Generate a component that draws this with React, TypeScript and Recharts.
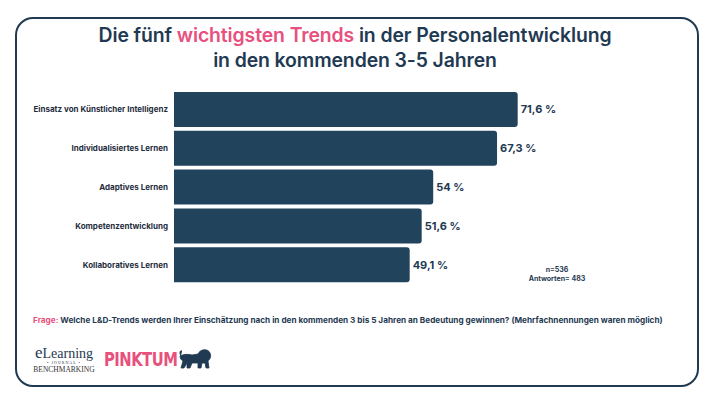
import React from "react";
import { BarChart, Bar, XAxis, YAxis, LabelList } from "recharts";

const categories = [
  "Einsatz von Künstlicher Intelligenz",
  "Individualisiertes Lernen",
  "Adaptives Lernen",
  "Kompetenzentwicklung",
  "Kollaboratives Lernen",
];
const values = [71.6, 67.3, 54, 51.6, 49.1];

const NAVY = "#1f3a52";
const BAR = "#22435c";
const PINK = "#e8507e";
const FONT = "Inter, 'Noto Sans', sans-serif";

const data = categories.map((name, i) => ({ name, value: values[i] }));

const fmt = (v: any) => String(v).replace(".", ",") + " %";

const CategoryTick = (props: any) => {
  const { x, y, payload } = props;
  return (
    <text x={x} y={y} dy={3} textAnchor="end" fill="#1f2d3d" fontSize={8} fontWeight={700} fontFamily={FONT}>
      {payload.value}
    </text>
  );
};

export default function App() {
  return (
    <div style={{ position: "absolute", left: 0, top: 0, width: 710, height: 399, background: "#fff", fontFamily: FONT }}>
      <div
        style={{
          position: "absolute",
          left: 15,
          top: 17,
          width: 680,
          height: 366,
          border: `2px solid ${NAVY}`,
          borderRadius: 18,
        }}
      />
      <div
        style={{
          position: "absolute",
          left: 0,
          top: 23,
          width: 710,
          textAlign: "center",
          fontSize: 19.4,
          fontWeight: 600,
          color: NAVY,
          lineHeight: "25px",
          letterSpacing: -0.1,
        }}
      >
        Die fünf <span style={{ color: PINK }}>wichtigsten Trends</span> in der Personalentwicklung
        <br />
        in den kommenden 3-5 Jahren
      </div>

      <div style={{ position: "absolute", left: 0, top: 0 }}>
        <BarChart
          width={710}
          height={399}
          data={data}
          layout="vertical"
          margin={{ top: 90, right: 56, left: 0, bottom: 115 }}
          barCategoryGap={2}
        >
          <XAxis type="number" domain={[0, 100]} hide />
          <YAxis
            type="category"
            dataKey="name"
            width={174}
            axisLine={false}
            tickLine={false}
            tickSize={4}
            tickMargin={2}
            tick={<CategoryTick />}
          />
          <Bar dataKey="value" fill={BAR} radius={[0, 3, 3, 0]} isAnimationActive={false}>
            <LabelList
              dataKey="value"
              position="right"
              offset={3}
              formatter={fmt}
              style={{ fill: NAVY, fontSize: 11, fontWeight: 700, fontFamily: FONT }}
            />
          </Bar>
        </BarChart>
      </div>

      <div
        style={{
          position: "absolute",
          left: 507,
          top: 265,
          width: 100,
          textAlign: "center",
          fontSize: 7,
          fontWeight: 700,
          color: NAVY,
          lineHeight: "9px",
        }}
      >
        n=536
        <br />
        Antworten= 483
      </div>

      <div
        style={{
          position: "absolute",
          left: 33,
          top: 315,
          fontSize: 8.2,
          fontWeight: 700,
          color: NAVY,
          whiteSpace: "nowrap",
        }}
      >
        <span style={{ color: PINK }}>Frage:</span> Welche L&amp;D-Trends werden Ihrer Einschätzung nach in den kommenden 3 bis 5 Jahren an Bedeutung gewinnen? (Mehrfachnennungen waren möglich)
      </div>

      <div style={{ position: "absolute", left: 33, top: 346, width: 62, textAlign: "center", fontFamily: "'Liberation Serif', serif", color: NAVY }}>
        <div style={{ fontSize: 14, lineHeight: "13px" }}>
          <span style={{ fontSize: 17 }}>e</span>Learning
        </div>
        <div style={{ fontSize: 4, letterSpacing: 1, lineHeight: "5px" }}>• JOURNAL •</div>
        <div style={{ fontSize: 7.5, lineHeight: "9px", color: "#333" }}>BENCHMARKING</div>
      </div>

      <div
        style={{
          position: "absolute",
          left: 104,
          top: 347,
          fontFamily: "'DejaVu Sans Condensed', 'Liberation Sans Narrow', sans-serif",
          fontWeight: 700,
          fontSize: 20,
          color: PINK,
          letterSpacing: -0.6,
          transform: "scaleX(0.82)",
          transformOrigin: "left top",
        }}
      >
        PINKTUM
      </div>
      <svg style={{ position: "absolute", left: 178, top: 348 }} width={34} height={22} viewBox="0 0 34 22">
        <path
          d="M2 8 C6 6 10 6 14 7 L20 6 C22 1 30 0 32 5 C34 9 31 12 30 13 L31 20 L28 20 L27 15 L24 15 L23 20 L20 20 L20 15 L14 15 L12 20 L9 20 L9 15 L6 20 L3 20 L5 13 C3 12 2 10 2 8 Z M3 8 C1 5 2 2 4 3"
          fill={NAVY}
          stroke={NAVY}
          strokeWidth={0.8}
        />
      </svg>
    </div>
  );
}
